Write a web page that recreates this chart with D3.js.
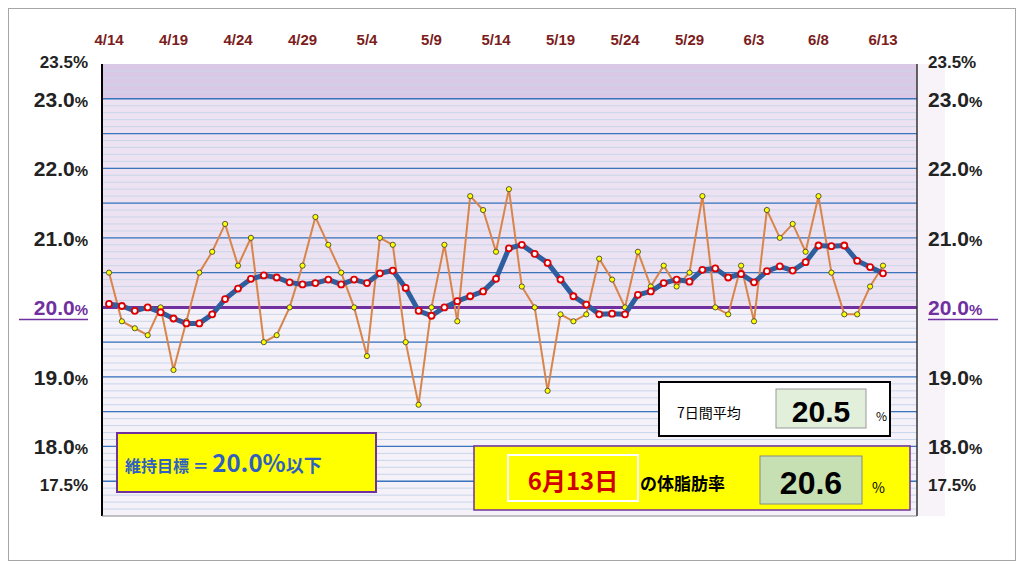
<!DOCTYPE html>
<html><head><meta charset="utf-8">
<script src="https://cdn.jsdelivr.net/npm/d3@7"></script>
<style>body{margin:0;background:#fff}svg{font-family:"Noto Sans CJK JP","Noto Sans",sans-serif}</style>
</head><body><svg id="c" width="1024" height="568"></svg>
<script>
const xLabels=["4/14","4/19","4/24","4/29","5/4","5/9","5/14","5/19","5/24","5/29","6/3","6/8","6/13"];
const daily=[20.5,19.8,19.7,19.6,20.0,19.1,19.8,20.5,20.8,21.2,20.6,21.0,19.5,19.6,20.0,20.6,21.3,20.9,20.5,20.0,19.3,
21.0,20.9,19.5,18.6,20.0,20.9,19.8,21.6,21.4,20.8,21.7,20.3,20.0,18.8,19.9,19.8,19.9,20.7,20.4,20.0,20.8,
20.3,20.6,20.3,20.5,21.6,20.0,19.9,20.6,19.8,21.4,21.0,21.2,20.8,21.6,20.5,19.9,19.9,20.3,20.6];
const avg7=[20.05,20.02,19.95,20.0,19.93,19.84,19.77,19.77,19.9,20.12,20.27,20.41,20.46,20.43,20.36,20.33,20.35,20.4,20.33,20.4,20.35,
20.49,20.53,20.28,19.95,19.88,20.0,20.09,20.16,20.23,20.41,20.85,20.9,20.77,20.64,20.4,20.16,20.04,19.9,19.91,19.9,20.18,
20.23,20.35,20.4,20.37,20.54,20.56,20.43,20.48,20.36,20.52,20.59,20.53,20.65,20.89,20.88,20.89,20.67,20.58,20.49];
const yTicks=[23.5,23.0,22.0,21.0,20.0,19.0,18.0,17.5];
const target=20.0, latestAvg="20.5", latestVal="20.6", latestDate="6月13日";

const svg=d3.select("#c");
svg.append("rect").attr("x",8.5).attr("y",8.5).attr("width",1007).attr("height",552).attr("fill","#fff").attr("stroke","#a6a6a6");
const L=102,R=917,T=64,B=516;
const x=d3.scaleLinear().domain([0,daily.length-1]).range([109,883]);
const y=d3.scaleLinear().domain([17,23.5]).range([B,T]);
svg.append("rect").attr("x",L).attr("y",y(20)).attr("width",R-L).attr("height",B-y(20)).attr("fill","#f4f1f9");
svg.append("rect").attr("x",L).attr("y",y(23)).attr("width",R-L).attr("height",y(20)-y(23)).attr("fill","#ece2f1");
svg.append("rect").attr("x",L).attr("y",T).attr("width",R-L).attr("height",y(23)-T).attr("fill","#d9c9e6");
svg.append("rect").attr("x",R).attr("y",T).attr("width",28).attr("height",B-T).attr("fill","#f7f3f9");
const minor=d3.range(171,235).map(v=>v/10);
svg.selectAll(".mn").data(minor).join("line").attr("x1",L).attr("x2",R).attr("y1",d=>y(d)).attr("y2",d=>y(d)).attr("stroke","#c9d6ea").attr("stroke-width",1);
const major=d3.range(35,47).map(v=>v/2);
svg.selectAll(".mj").data(major).join("line").attr("x1",L).attr("x2",R).attr("y1",d=>y(d)).attr("y2",d=>y(d)).attr("stroke","#3a74bd").attr("stroke-width",1.3);
svg.append("line").attr("x1",L).attr("x2",R).attr("y1",y(target)).attr("y2",y(target)).attr("stroke","#7030a0").attr("stroke-width",3);
svg.append("line").attr("x1",L).attr("x2",L).attr("y1",T).attr("y2",B).attr("stroke","#000").attr("stroke-width",2);
svg.append("line").attr("x1",R).attr("x2",R).attr("y1",T).attr("y2",B).attr("stroke","#333").attr("stroke-width",1.5);
svg.append("line").attr("x1",L).attr("x2",R).attr("y1",B).attr("y2",B).attr("stroke","#888");
svg.selectAll(".xl").data(xLabels).join("text").attr("x",(d,i)=>x(i*5)).attr("y",45).attr("text-anchor","middle")
 .attr("font-size",15).attr("font-weight","bold").attr("fill","#7b1d1d").attr("font-family","Liberation Sans").text(d=>d);
function ylab(xp,anchor){
 yTicks.forEach(v=>{
  const big=!(v===23.5||v===17.5);
  const t=svg.append("text").attr("x",xp).attr("y",y(v)+(v===23.5?4:v===17.5?10:8)).attr("text-anchor",anchor)
   .attr("font-family","Liberation Sans").attr("font-weight","bold").attr("fill",v===20?"#7030a0":"#222");
  t.append("tspan").attr("font-size",big?21:17).text(v.toFixed(1));
  t.append("tspan").attr("font-size",big?15:17).text("%");
  if(v===20){svg.append("line").attr("x1",anchor==="end"?xp-69:xp).attr("x2",anchor==="end"?xp:xp+70).attr("y1",y(v)+12).attr("y2",y(v)+12).attr("stroke","#7030a0").attr("stroke-width",1.5);}
 });
}
ylab(88,"end");ylab(928,"start");
const line=d3.line().x((d,i)=>x(i)).y(d=>y(d));
svg.append("path").datum(daily).attr("d",line).attr("fill","none").attr("stroke","#d9844a").attr("stroke-width",2);
svg.selectAll(".dp").data(daily).join("circle").attr("cx",(d,i)=>x(i)).attr("cy",d=>y(d)).attr("r",2.6).attr("fill","#ffff00").attr("stroke","#333").attr("stroke-width",0.8);
svg.append("path").datum(avg7).attr("d",line).attr("fill","none").attr("stroke","#2e5e9e").attr("stroke-width",5).attr("stroke-linejoin","round");
svg.selectAll(".ap").data(avg7).join("circle").attr("cx",(d,i)=>x(i)).attr("cy",d=>y(d)).attr("r",3).attr("fill","#fff").attr("stroke","#e00000").attr("stroke-width",1.8);
svg.append("rect").attr("x",659).attr("y",382).attr("width",231).attr("height",54).attr("fill","#fff").attr("stroke","#000").attr("stroke-width",2);
svg.append("text").attr("x",677).attr("y",418).attr("font-size",14).attr("fill","#000").text("7日間平均");
svg.append("rect").attr("x",776).attr("y",389).attr("width",90).attr("height",39).attr("fill","#e2efda").attr("stroke","#999");
svg.append("text").attr("x",821).attr("y",422).attr("text-anchor","middle").attr("font-size",30).attr("font-weight","bold").attr("font-family","Liberation Sans").text(latestAvg);
svg.append("text").attr("x",876).attr("y",421).attr("font-size",12).text("%");
svg.append("rect").attr("x",117).attr("y",433).attr("width",259).attr("height",59).attr("fill","#ffff00").attr("stroke","#7030a0").attr("stroke-width",2);
const tt=svg.append("text").attr("x",125).attr("y",472).attr("fill","#2f5fc0").attr("font-weight","bold");
tt.append("tspan").attr("font-size",16).text("維持目標 ＝ ");
tt.append("tspan").attr("font-size",24).text(target.toFixed(1)+"%");
tt.append("tspan").attr("font-size",18).text("以下");
svg.append("rect").attr("x",474).attr("y",446).attr("width",436).attr("height",64).attr("fill","#ffff00").attr("stroke","#7030a0").attr("stroke-width",1.5);
svg.append("rect").attr("x",508).attr("y",455).attr("width",130).attr("height",46).attr("fill","#ffff00").attr("stroke","#fff").attr("stroke-width",2);
svg.append("text").attr("x",573).attr("y",490).attr("text-anchor","middle").attr("font-size",24).attr("font-weight","bold").attr("fill","#d00000").text(latestDate);
svg.append("text").attr("x",640).attr("y",490).attr("font-size",17).attr("font-weight","bold").attr("fill","#000").text("の体脂肪率");
svg.append("rect").attr("x",760).attr("y",456).attr("width",102).attr("height",48).attr("fill","#c6e0b4").attr("stroke","#888");
svg.append("text").attr("x",811).attr("y",494).attr("text-anchor","middle").attr("font-size",32).attr("font-weight","bold").attr("font-family","Liberation Sans").text(latestVal);
svg.append("text").attr("x",872).attr("y",493).attr("font-size",14).text("%");
</script></body></html>
